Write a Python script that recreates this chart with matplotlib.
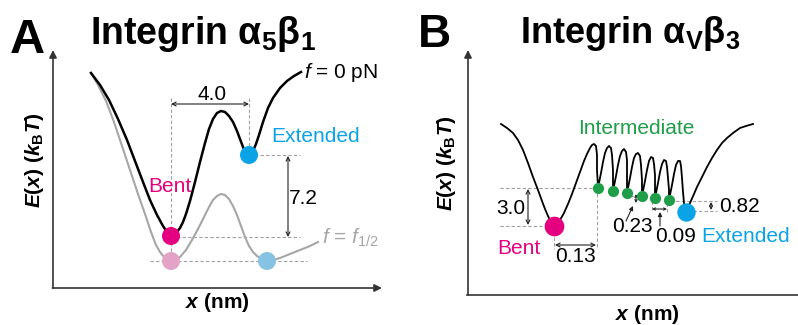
import matplotlib
matplotlib.use("Agg")
import matplotlib.pyplot as plt

plt.rcParams['font.family'] = ['Liberation Sans', 'DejaVu Sans']
plt.rcParams['mathtext.fontset'] = 'custom'
plt.rcParams['mathtext.rm'] = 'Liberation Sans'
plt.rcParams['mathtext.it'] = 'Liberation Sans:italic'
plt.rcParams['mathtext.bf'] = 'Liberation Sans:bold'
plt.rcParams['mathtext.bfit'] = 'Liberation Sans:italic:bold'

# ---------------- data (schematic, figure pixel units) ----------------
# Panel A: f = 0 pN landscape
a_black_x = [91, 100, 109, 118, 127, 135, 143, 150, 157, 163, 167, 171, 174, 177, 180, 183, 186, 190,
             195, 200, 205, 209, 213, 217, 221, 225, 229, 233, 237, 240, 243, 245, 247, 249, 251, 253,
             256, 259, 263, 268, 273, 280, 287, 294, 301]
a_black_y = [73, 85, 100, 119, 140, 161, 182, 200, 215, 226, 232, 235, 234.5, 232, 228, 222, 214, 201,
             182, 162, 143, 129, 119, 113, 111, 112, 116, 122, 131, 139, 147, 151, 154, 155, 154, 151,
             144, 135, 122, 108, 98, 88, 81, 76, 72]
# Panel A: f = f1/2 landscape
a_gray_x = [91, 98, 106, 114, 122, 130, 138, 145, 151, 156, 160, 164, 168, 171, 175, 180, 186, 192,
            198, 204, 209, 213, 217, 221, 225, 229, 233, 237, 241, 245, 249, 253, 257, 262, 267, 273,
            280, 290, 300, 310, 318]
a_gray_y = [73, 85, 101, 122, 146, 170, 194, 214, 232, 245, 252, 257, 260, 261, 260, 257, 250, 240,
            229, 217, 207, 200, 196, 194, 195, 199, 206, 215, 226, 237, 246, 252, 256, 259, 261, 260,
            258, 254, 250, 246, 242]
a_states_x = [171, 249]          # Bent, Extended (f = 0)
a_states_y = [236, 155]
a_states_half_x = [171, 267]     # Bent, Extended (f = f1/2)
a_states_half_y = [261, 261]
a_dx_label = "4.0"
a_dE_label = "7.2"

# Panel B landscape
b_curve_x = [501, 507, 513, 518, 523, 528, 533, 538, 542, 545, 548, 551, 554, 557, 560, 564, 568, 572,
             576, 580, 584, 587, 590, 592, 594, 596, 597, 597, 598,
             599, 601, 603, 605, 607, 609, 611, 612, 613, 613,
             614, 616, 618, 620, 622, 624, 626, 627, 627, 627,
             628, 630, 632, 634, 636, 638, 640, 641, 642, 642,
             643, 645, 647, 649, 651, 653, 654, 655, 655, 655,
             656, 658, 660, 662, 664, 666, 667, 668, 669, 669,
             670, 672, 674, 676, 678, 680, 681, 682, 683, 684, 686,
             690, 694, 697, 702, 707, 712, 717, 722, 727, 733, 740, 746, 753]
b_curve_y = [124, 128, 133, 140, 150, 163, 177, 190, 201, 209, 216, 222, 225, 224, 220, 213, 204, 194,
             183, 172, 161, 154, 148, 145, 144, 146, 155, 170, 187,
             183, 173, 162, 153, 148, 146, 148, 155, 170, 186,
             186, 176, 165, 156, 151, 149, 152, 160, 175, 189,
             188, 178, 167, 158, 154, 153, 156, 165, 180, 192,
             191, 181, 170, 161, 157, 158, 164, 175, 186, 195,
             193, 183, 172, 164, 160, 161, 167, 178, 190, 197,
             195, 185, 174, 165, 161, 161, 166, 178, 192, 203, 211,
             203, 194, 187, 177, 167, 158, 150, 143, 138, 133, 128, 126, 124]
b_bent_xy = (554, 226)
b_ext_xy = (686, 212)
b_inter_x = [598, 613, 627, 642, 655, 669]
b_inter_y = [188, 191, 193, 196, 198, 200]
b_labels = ["3.0", "0.13", "0.23", "0.09", "0.82"]

# ---------------- colours ----------------
MAGENTA = '#E4007F'
BLUE = '#0AA3E6'
GREEN = '#1E9E48'
PINK_L = '#E3A3C6'
BLUE_L = '#86C3E3'
GRAY = '#A6A6A6'
DASH = '#A0A0A0'

fig = plt.figure(figsize=(7.98, 3.25), dpi=100)
ax = fig.add_axes([0, 0, 1, 1])
ax.set_xlim(0, 798)
ax.set_ylim(325, 0)
ax.axis('off')


def arrow(p0, p1, style='<->', lw=0.8, ms=7, color='#222222'):
    ax.annotate('', xy=p1, xytext=p0,
                arrowprops=dict(arrowstyle=style, color=color, lw=lw,
                                shrinkA=0, shrinkB=0, mutation_scale=ms))


def dash(xs, ys):
    ax.plot(xs, ys, color=DASH, lw=0.8, ls=(0, (3, 2)), zorder=1)


# ================= Panel A =================
ax.text(10, 53, 'A', fontsize=35, fontweight='bold', va='baseline', ha='left')
ax.text(90, 44, r'Integrin $\mathbf{α_5β_1}$', fontsize=27, fontweight='bold',
        va='baseline', ha='left')
# axes arrows
arrow((53, 288), (53, 50), style='-|>', lw=1.2, ms=11, color='#333333')
arrow((52.4, 288), (382, 288), style='-|>', lw=1.2, ms=11, color='#333333')
ax.text(35, 160, r'$\mathbfit{E}\mathbf{(}\mathbfit{x}\mathbf{)\ (}\mathbfit{k}_\mathbf{B}\mathbfit{T}\mathbf{)}$',
        fontsize=15, rotation=90, ha='center', va='center')
ax.text(217, 302, r'$\mathbfit{x}$ (nm)', fontsize=15, fontweight='bold', ha='center', va='center')

# dashed guides
dash([171, 171], [98, 261])
dash([249, 249], [98, 155])
dash([249, 300], [155, 155])
dash([171, 300], [237, 237])
dash([150, 307], [261, 261])
arrow((171, 104), (249, 104))
ax.text(212, 94, a_dx_label, fontsize=15, ha='center', va='center')
arrow((288, 156), (288, 237))
ax.text(303, 199, a_dE_label, fontsize=15, ha='center', va='center')

ax.plot(a_gray_x, a_gray_y, color=GRAY, lw=1.5, zorder=2, solid_joinstyle='round')
ax.plot(a_black_x, a_black_y, color='black', lw=1.8, zorder=3, solid_joinstyle='round')
ax.scatter(a_states_half_x, a_states_half_y, s=168, c=[PINK_L, BLUE_L], zorder=4, linewidths=0)
ax.scatter(a_states_x, a_states_y, s=168, c=[MAGENTA, BLUE], zorder=5, linewidths=0)

ax.text(304, 73, r'$\mathit{f}$ = 0 pN', fontsize=15, ha='left', va='center')
ax.text(322, 238, r'$\mathit{f}$ = $\mathit{f}_{1/2}$', fontsize=15, ha='left', va='center', color=GRAY)
ax.text(316, 137, 'Extended', fontsize=15, ha='center', va='center', color=BLUE)
ax.text(170, 187, 'Bent', fontsize=15, ha='center', va='center', color=MAGENTA)

# ================= Panel B =================
ax.text(418, 47, 'B', fontsize=33, fontweight='bold', va='baseline', ha='left')
ax.text(520, 43, r'Integrin $\mathbf{α_Vβ_3}$', fontsize=26, fontweight='bold',
        va='baseline', ha='left')
arrow((468, 295), (468, 50), style='-|>', lw=1.2, ms=11, color='#333333')
ax.plot([467.4, 798], [295, 295], color='#333333', lw=1.2)
ax.text(447, 163, r'$\mathbfit{E}\mathbf{(}\mathbfit{x}\mathbf{)\ (}\mathbfit{k}_\mathbf{B}\mathbfit{T}\mathbf{)}$',
        fontsize=15, rotation=90, ha='center', va='center')
ax.text(647, 314, r'$\mathbfit{x}$ (nm)', fontsize=15, fontweight='bold', ha='center', va='center')

dash([500, 598], [188, 188])
dash([500, 554], [226, 226])
dash([554, 554], [226, 249])
dash([597, 597], [188, 249])
dash([670, 717], [201, 201])
dash([693, 717], [211, 211])
dash([630, 640], [196, 196])
dash([652, 652], [201, 212])
dash([667, 667], [203, 212])
arrow((528, 189), (528, 225))
arrow((555, 245), (596, 245))
arrow((711, 202), (711, 210), ms=5)
arrow((636, 194), (636, 203), ms=4)
arrow((652, 209), (667, 209), ms=4)
arrow((626, 221), (633, 206), style='-|>', ms=6)
arrow((660, 226), (660, 212), style='-|>', ms=6)

ax.plot(b_curve_x, b_curve_y, color='black', lw=1.3, zorder=3, solid_joinstyle='round')
ax.scatter([b_bent_xy[0]], [b_bent_xy[1]], s=200, c=MAGENTA, zorder=5, linewidths=0)
ax.scatter([b_ext_xy[0]], [b_ext_xy[1]], s=175, c=BLUE, zorder=5, linewidths=0)
ax.scatter(b_inter_x, b_inter_y, s=65, c=GREEN, zorder=5, linewidths=0)

ax.text(511, 208, b_labels[0], fontsize=15, ha='center', va='center')
ax.text(576, 257, b_labels[1], fontsize=15, ha='center', va='center')
ax.text(632, 227, b_labels[2], fontsize=15, ha='center', va='center')
ax.text(676, 237, b_labels[3], fontsize=15, ha='center', va='center')
ax.text(739, 207, b_labels[4], fontsize=15, ha='center', va='center')
ax.text(636, 128, 'Intermediate', fontsize=15, ha='center', va='center', color=GREEN)
ax.text(519, 248, 'Bent', fontsize=15, ha='center', va='center', color=MAGENTA)
ax.text(746, 236, 'Extended', fontsize=15, ha='center', va='center', color=BLUE)

fig.savefig('out.png', dpi=100)
